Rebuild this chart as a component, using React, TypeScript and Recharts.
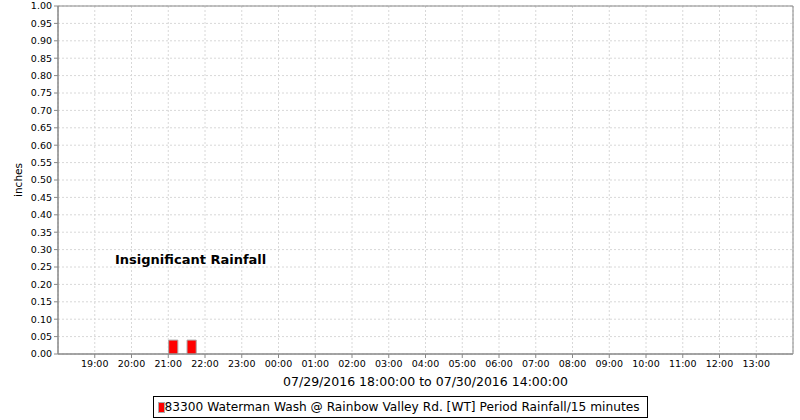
import React from 'react';
import {
  BarChart,
  Bar,
  XAxis,
  YAxis,
  CartesianGrid,
  Legend,
  ReferenceArea,
  Customized,
} from 'recharts';

// hours after 07/29/2016 18:00, bar centred on its 15 minute period
const periodMid = [3.125, 3.625];
const rainfall = [0.04, 0.04];

const hourTicks = [1, 2, 3, 4, 5, 6, 7, 8, 9, 10, 11, 12, 13, 14, 15, 16, 17, 18, 19];
const hourLabels = [
  '18:00', '19:00', '20:00', '21:00', '22:00', '23:00', '00:00', '01:00', '02:00', '03:00',
  '04:00', '05:00', '06:00', '07:00', '08:00', '09:00', '10:00', '11:00', '12:00', '13:00', '14:00',
];
const yTicks = [
  0, 0.05, 0.1, 0.15, 0.2, 0.25, 0.3, 0.35, 0.4, 0.45, 0.5,
  0.55, 0.6, 0.65, 0.7, 0.75, 0.8, 0.85, 0.9, 0.95, 1.0,
];

const seriesName = '83300 Waterman Wash @ Rainbow Valley Rd. [WT] Period Rainfall/15 minutes';
const rangeLabel = '07/29/2016 18:00:00 to 07/30/2016 14:00:00';
const note = 'Insignificant Rainfall';

const data = periodMid.map((t, i) => ({ t, rain: rainfall[i] }));

const font = '"DejaVu Sans", sans-serif';
const axisGray = '#888888';

const LegendBox = () => (
  <div style={{ width: 800, textAlign: 'center', lineHeight: 0 }}>
    <div
      style={{
        display: 'inline-flex',
        alignItems: 'center',
        height: 22,
        width: 495,
        boxSizing: 'border-box',
        border: '1px solid #000',
        padding: '0 0 0 4px',
        fontFamily: font,
        fontSize: 12.2,
        lineHeight: 'normal',
        color: '#000',
        background: '#fff',
        whiteSpace: 'nowrap',
      }}
    >
      <span
        style={{
          display: 'inline-block',
          width: 5,
          height: 9,
          background: '#ff0000',
          border: '1px solid #aaaaaa',
        }}
      />
      <span>{seriesName}</span>
    </div>
  </div>
);

const NoteText = () => (
  <text x={115} y={264} fontFamily={font} fontWeight="bold" fontSize={13} fill="#000">
    {note}
  </text>
);

export default function App() {
  return (
    <div style={{ position: 'absolute', left: 0, top: 0, background: '#fff' }}>
      <BarChart
        width={800}
        height={420}
        data={data}
        margin={{ top: 6, right: 7, left: 0, bottom: 2 }}
      >
        <CartesianGrid stroke="#d8d8d8" strokeDasharray="2 2" />
        <XAxis
          dataKey="t"
          type="number"
          domain={[0, 20]}
          ticks={hourTicks}
          tickFormatter={(v: number) => hourLabels[v]}
          interval={0}
          height={42}
          stroke={axisGray}
          tickSize={4}
          tickMargin={2}
          tick={{ fill: '#000', fontSize: 9.5, fontFamily: font }}
          label={{
            value: rangeLabel,
            position: 'insideBottom',
            offset: 10,
            style: { fill: '#000', fontSize: 12.5, fontFamily: font },
          }}
        />
        <YAxis
          domain={[0, 1]}
          ticks={yTicks}
          interval={0}
          width={58}
          stroke={axisGray}
          tickSize={4}
          tickMargin={2}
          tickFormatter={(v: number) => v.toFixed(2)}
          tick={{ fill: '#000', fontSize: 9.5, fontFamily: font }}
          label={{
            value: 'inches',
            angle: -90,
            position: 'insideLeft',
            offset: 18,
            style: { textAnchor: 'middle', fill: '#000', fontSize: 10.5, fontFamily: font },
          }}
        />
        <ReferenceArea x1={0} x2={20} y1={0} y2={1} fill="none" stroke={axisGray} strokeOpacity={1} />
        <Bar
          dataKey="rain"
          name={seriesName}
          fill="#ff0000"
          stroke="#aaaaaa"
          barSize={9.2}
          isAnimationActive={false}
        />
        <Legend
          verticalAlign="bottom"
          align="left"
          wrapperStyle={{ left: 0, width: 800 }}
          content={() => <LegendBox />}
        />
        <Customized component={NoteText} />
      </BarChart>
    </div>
  );
}
